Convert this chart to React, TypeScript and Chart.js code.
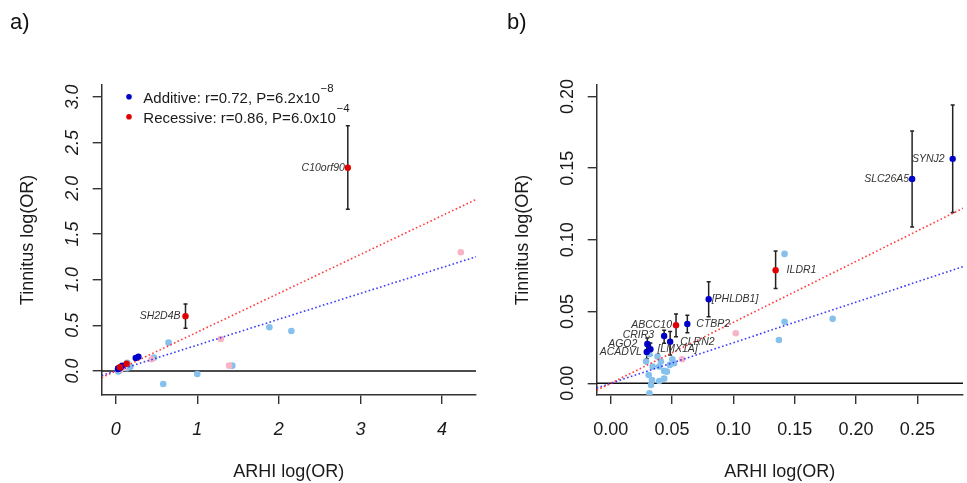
import React, { useEffect, useRef } from "react";
import { Chart, registerables } from "chart.js";

Chart.register(...registerables);

// ---------------- data ----------------
// Significant additive genes (dark blue) with 95% CI on tinnitus log(OR)
const addSigGenes = ["SYNJ2", "SLC26A5", "[PHLDB1]", "CTBP2", "CRIR3", "CLRN2", "AGO2", "[LMX1A]", "ACADVL"];
const addSigARHI = [0.2788, 0.2457, 0.0798, 0.0624, 0.0435, 0.0484, 0.0298, 0.0323, 0.0293];
const addSigTinnitus = [0.1565, 0.1425, 0.0586, 0.0414, 0.033, 0.029, 0.0274, 0.0237, 0.0218];
const addSigLower = [0.119, 0.109, 0.0463, 0.0352, 0.0279, 0.0197, 0.0235, 0.0195, 0.017];
const addSigUpper = [0.194, 0.176, 0.0707, 0.0475, 0.0369, 0.036, 0.0315, 0.028, 0.0262];

// Significant recessive genes with small effects (red)
const recSigGenesSmall = ["ABCC10", "ILDR1"];
const recSigARHISmall = [0.0532, 0.1344];
const recSigTinnitusSmall = [0.0405, 0.0788];
const recSigLowerSmall = [0.0325, 0.066];
const recSigUpperSmall = [0.0483, 0.0923];

// Significant recessive genes with large effects (red, panel a only)
const recSigGenesLarge = ["C10orf90", "SH2D4B"];
const recSigARHILarge = [2.845, 0.856];
const recSigTinnitusLarge = [2.224, 0.6];
const recSigLowerLarge = [1.771, 0.467];
const recSigUpperLarge = [2.684, 0.733];

// Non-significant additive genes (light blue), small effects
const addNsARHISmall = [0.1417, 0.1809, 0.1417, 0.1371, 0.0288, 0.0309, 0.0315, 0.0336, 0.0328, 0.0341, 0.0381, 0.0395, 0.0409, 0.0395, 0.0435, 0.0457, 0.0435, 0.0502, 0.0516, 0.0481, 0.0315];
const addNsTinnitusSmall = [0.0902, 0.0449, 0.0428, 0.0302, 0.0151, 0.0058, -0.007, 0.0023, -0.0012, 0.0116, 0.0186, 0.0016, 0.0151, 0.0116, 0.0086, 0.0081, 0.0032, 0.0167, 0.0139, 0.0128, 0.0202];
// Non-significant additive genes, large effects (panel a only)
const addNsARHILarge = [0.468, 0.648, 0.583, 1.0, 1.43, 1.884, 2.153];
const addNsTinnitusLarge = [0.146, 0.31, -0.142, -0.033, 0.058, 0.478, 0.438];

// Non-significant recessive genes (pink)
const recNsARHISmall = [0.0581, 0.1019];
const recNsTinnitusSmall = [0.0167, 0.0349];
const recNsARHILarge = [0.44, 1.288, 1.39, 4.23];
const recNsTinnitusLarge = [0.128, 0.35, 0.058, 1.3];

// Regression slopes (through origin)
const slopeAdditive = 0.283;
const slopeRecessive = 0.425;

// Legend text
const legendAdditive = ["Additive: r=0.72, P=6.2x10", "\u22128"];
const legendRecessive = ["Recessive: r=0.86, P=6.0x10", "\u22124"];

// Axes
const xTicksA = [0, 1, 2, 3, 4];
const xTickLabelsA = ["0", "1", "2", "3", "4"];
const yTicksA = [0, 0.5, 1, 1.5, 2, 2.5, 3];
const yTickLabelsA = ["0.0", "0.5", "1.0", "1.5", "2.0", "2.5", "3.0"];
const xTicksB = [0, 0.05, 0.1, 0.15, 0.2, 0.25];
const xTickLabelsB = ["0.00", "0.05", "0.10", "0.15", "0.20", "0.25"];
const yTicksB = [0, 0.05, 0.1, 0.15, 0.2];
const yTickLabelsB = ["0.00", "0.05", "0.10", "0.15", "0.20"];
const xTitle = "ARHI log(OR)";
const yTitle = "Tinnitus log(OR)";

// ---------------- styles ----------------
const FONT = '"Liberation Sans", Arial, Helvetica, sans-serif';
const DARK_BLUE = "#0000c8";
const RED = "#e00000";
const LIGHT_BLUE = "#86c0ec";
const PINK = "#f8b4c4";
const LINE_RED = "rgba(255,50,50,0.95)";
const LINE_BLUE = "rgba(50,50,255,0.95)";
const TEXT = "#1a1a1a";

// label placement relative to point: [dx, dy, align]
const labelOffsets: Record<string, [number, number, CanvasTextAlign]> = {
  SYNJ2: [-8, 0, "right"],
  SLC26A5: [-3, 0, "right"],
  "[PHLDB1]": [3, 0, "left"],
  CTBP2: [9, 0, "left"],
  CRIR3: [-10, -1, "right"],
  CLRN2: [10, 0, "left"],
  AGO2: [-10, 0, "right"],
  "[LMX1A]": [7, 0, "left"],
  ACADVL: [-5, 0, "right"],
  ABCC10: [-4, 0, "right"],
  ILDR1: [11, 0, "left"],
  C10orf90: [-3, 0, "right"],
  SH2D4B: [-5, 0, "right"],
};

type Group = { names: string[]; x: number[]; y: number[]; lo: number[]; hi: number[] };

type PanelCfg = {
  letter: string;
  italicTicks: boolean;
  xMin: number; xMax: number; yMin: number; yMax: number;
  xTicks: number[]; xTickLabels: string[]; yTicks: number[]; yTickLabels: string[];
  leftWidth: number; rightPad: number;
  groups: Group[];
  legend: boolean;
  sigRec: [number[], number[]][];
  sigAdd: [number[], number[]][];
  nsRec: [number[], number[]][];
  nsAdd: [number[], number[]][];
};

const pts = (sets: [number[], number[]][]) =>
  sets.flatMap(([xs, ys]) => xs.map((x, i) => ({ x, y: ys[i] })));

function makePlugin(cfg: PanelCfg) {
  return {
    id: "decor" + cfg.letter,
    beforeDatasetsDraw(chart: any) {
      const { ctx, chartArea, scales } = chart;
      const xs = scales.x, ys = scales.y;
      ctx.save();
      // zero line
      const y0 = ys.getPixelForValue(0);
      ctx.strokeStyle = "#111";
      ctx.lineWidth = 1.4;
      ctx.beginPath();
      ctx.moveTo(chartArea.left, y0);
      ctx.lineTo(chartArea.right, y0);
      ctx.stroke();
      // error bars
      ctx.strokeStyle = "#222";
      ctx.lineWidth = 1.5;
      cfg.groups.forEach((g) => {
        g.x.forEach((xv, i) => {
          const px = xs.getPixelForValue(xv);
          const pl = ys.getPixelForValue(g.lo[i]);
          const ph = ys.getPixelForValue(g.hi[i]);
          ctx.beginPath();
          ctx.moveTo(px, pl); ctx.lineTo(px, ph);
          ctx.moveTo(px - 2, pl); ctx.lineTo(px + 2, pl);
          ctx.moveTo(px - 2, ph); ctx.lineTo(px + 2, ph);
          ctx.stroke();
        });
      });
      ctx.restore();
    },
    afterDatasetsDraw(chart: any) {
      const { ctx, scales } = chart;
      const xs = scales.x, ys = scales.y;
      ctx.save();
      ctx.font = `italic 10.5px ${FONT}`;
      ctx.fillStyle = "#333";
      ctx.textBaseline = "middle";
      cfg.groups.forEach((g) => {
        g.names.forEach((n, i) => {
          const off = labelOffsets[n] || [5, 0, "left"];
          ctx.textAlign = off[2];
          ctx.fillText(n, xs.getPixelForValue(g.x[i]) + off[0], ys.getPixelForValue(g.y[i]) + off[1]);
        });
      });
      ctx.restore();
    },
    afterDraw(chart: any) {
      const { ctx, chartArea, scales } = chart;
      const xs = scales.x, ys = scales.y;
      ctx.save();
      ctx.fillStyle = TEXT;
      // tick labels
      ctx.font = `${cfg.italicTicks ? "italic " : ""}18px ${FONT}`;
      ctx.textAlign = "center";
      ctx.textBaseline = "alphabetic";
      xs.ticks.forEach((t: any, i: number) => {
        const idx = cfg.xTicks.indexOf(t.value);
        const lab = idx >= 0 ? cfg.xTickLabels[idx] : String(t.value);
        ctx.fillText(lab, xs.getPixelForValue(t.value), chartArea.bottom + 40);
      });
      ys.ticks.forEach((t: any) => {
        const idx = cfg.yTicks.indexOf(t.value);
        const lab = idx >= 0 ? cfg.yTickLabels[idx] : String(t.value);
        ctx.save();
        ctx.translate(chartArea.left - 24, ys.getPixelForValue(t.value));
        ctx.rotate(-Math.PI / 2);
        ctx.fillText(lab, 0, 0);
        ctx.restore();
      });
      // titles
      ctx.font = `18px ${FONT}`;
      ctx.fillText(xTitle, (chartArea.left + chartArea.right) / 2, 477);
      ctx.save();
      ctx.translate(chartArea.left - 68.5, (chartArea.top + chartArea.bottom) / 2);
      ctx.rotate(-Math.PI / 2);
      ctx.fillText(yTitle, 0, 0);
      ctx.restore();
      // panel letter
      ctx.textAlign = "left";
      ctx.font = `22px ${FONT}`;
      ctx.fillStyle = "#111";
      ctx.fillText(cfg.letter, cfg.letter === "a)" ? 10 : 27, 29);
      // legend
      if (cfg.legend) {
        const rows: [string[], string, number][] = [
          [legendAdditive, DARK_BLUE, 102.7],
          [legendRecessive, RED, 122.7],
        ];
        rows.forEach(([txt, col, base]) => {
          ctx.fillStyle = col;
          ctx.beginPath();
          ctx.arc(129, base - 6, 2.8, 0, Math.PI * 2);
          ctx.fill();
          ctx.fillStyle = TEXT;
          ctx.font = `15px ${FONT}`;
          ctx.fillText(txt[0], 143.3, base);
          const w = ctx.measureText(txt[0]).width;
          ctx.font = `11.5px ${FONT}`;
          ctx.fillText(txt[1], 143.3 + w + 0.5, base - 11);
        });
      }
      ctx.restore();
    },
  };
}

function buildConfig(cfg: PanelCfg): any {
  const xLine = [cfg.xMin, cfg.xMax];
  return {
    type: "scatter",
    data: {
      datasets: [
        { data: pts(cfg.sigRec), backgroundColor: RED, pointRadius: 3.2, borderWidth: 0 },
        { data: pts(cfg.sigAdd), backgroundColor: DARK_BLUE, pointRadius: 3.2, borderWidth: 0 },
        {
          data: xLine.map((x) => ({ x, y: slopeRecessive * x })),
          showLine: true, borderColor: LINE_RED, borderWidth: 1.6, borderDash: [1.6, 2.4], pointRadius: 0,
        },
        {
          data: xLine.map((x) => ({ x, y: slopeAdditive * x })),
          showLine: true, borderColor: LINE_BLUE, borderWidth: 1.6, borderDash: [1.6, 2.4], pointRadius: 0,
        },
        { data: pts(cfg.nsRec), backgroundColor: PINK, pointRadius: 3.3, borderWidth: 0 },
        { data: pts(cfg.nsAdd), backgroundColor: LIGHT_BLUE, pointRadius: 3.3, borderWidth: 0 },
      ],
    },
    options: {
      responsive: false,
      animation: false,
      events: [],
      layout: { padding: { left: 0, right: cfg.rightPad, top: 85, bottom: 0 } },
      plugins: { legend: { display: false }, tooltip: { enabled: false } },
      scales: {
        x: {
          type: "linear",
          min: cfg.xMin,
          max: cfg.xMax,
          afterBuildTicks: (axis: any) => { axis.ticks = cfg.xTicks.map((v) => ({ value: v })); },
          afterFit: (axis: any) => { axis.height = 88; },
          ticks: { display: false, autoSkip: false },
          grid: { drawOnChartArea: false, drawTicks: true, tickLength: 9, color: "#333", lineWidth: 1.4 },
          border: { display: true, color: "#333", width: 1.5 },
        },
        y: {
          type: "linear",
          min: cfg.yMin,
          max: cfg.yMax,
          afterBuildTicks: (axis: any) => { axis.ticks = cfg.yTicks.map((v) => ({ value: v })); },
          afterFit: (axis: any) => { axis.width = cfg.leftWidth; },
          ticks: { display: false, autoSkip: false },
          grid: { drawOnChartArea: false, drawTicks: true, tickLength: 9, color: "#333", lineWidth: 1.4 },
          border: { display: true, color: "#333", width: 1.5 },
        },
      },
    },
    plugins: [makePlugin(cfg)],
  };
}

const panelA: PanelCfg = {
  letter: "a)",
  italicTicks: true,
  xMin: -0.171, xMax: 4.416, yMin: -0.263, yMax: 3.13,
  xTicks: xTicksA, xTickLabels: xTickLabelsA, yTicks: yTicksA, yTickLabels: yTickLabelsA,
  leftWidth: 101.7, rightPad: 3,
  groups: [{ names: recSigGenesLarge, x: recSigARHILarge, y: recSigTinnitusLarge, lo: recSigLowerLarge, hi: recSigUpperLarge }],
  legend: true,
  sigRec: [[recSigARHILarge, recSigTinnitusLarge], [recSigARHISmall, recSigTinnitusSmall]],
  sigAdd: [[addSigARHI, addSigTinnitus]],
  nsRec: [[recNsARHISmall, recNsTinnitusSmall], [recNsARHILarge, recNsTinnitusLarge]],
  nsAdd: [[addNsARHISmall, addNsTinnitusSmall], [addNsARHILarge, addNsTinnitusLarge]],
};

const panelB: PanelCfg = {
  letter: "b)",
  italicTicks: false,
  xMin: -0.0115, xMax: 0.2872, yMin: -0.0082, yMax: 0.208,
  xTicks: xTicksB, xTickLabels: xTickLabelsB, yTicks: yTicksB, yTickLabels: yTickLabelsB,
  leftWidth: 116.7, rightPad: 0,
  groups: [
    { names: addSigGenes, x: addSigARHI, y: addSigTinnitus, lo: addSigLower, hi: addSigUpper },
    { names: recSigGenesSmall, x: recSigARHISmall, y: recSigTinnitusSmall, lo: recSigLowerSmall, hi: recSigUpperSmall },
  ],
  legend: false,
  sigRec: [[recSigARHISmall, recSigTinnitusSmall]],
  sigAdd: [[addSigARHI, addSigTinnitus]],
  nsRec: [[recNsARHISmall, recNsTinnitusSmall]],
  nsAdd: [[addNsARHISmall, addNsTinnitusSmall]],
};

function Panel({ cfg, left, width }: { cfg: PanelCfg; left: number; width: number }) {
  const ref = useRef<HTMLCanvasElement | null>(null);
  useEffect(() => {
    if (!ref.current) return;
    const chart = new Chart(ref.current, buildConfig(cfg));
    return () => chart.destroy();
  }, [cfg]);
  return (
    <canvas
      ref={ref}
      width={width}
      height={483}
      style={{ position: "absolute", left, top: 0, width, height: 483 }}
    />
  );
}

export default function App() {
  return (
    <div style={{ position: "fixed", left: 0, top: 0, width: 967, height: 483, background: "#fff" }}>
      <Panel cfg={panelA} left={0} width={480} />
      <Panel cfg={panelB} left={480} width={487} />
    </div>
  );
}
